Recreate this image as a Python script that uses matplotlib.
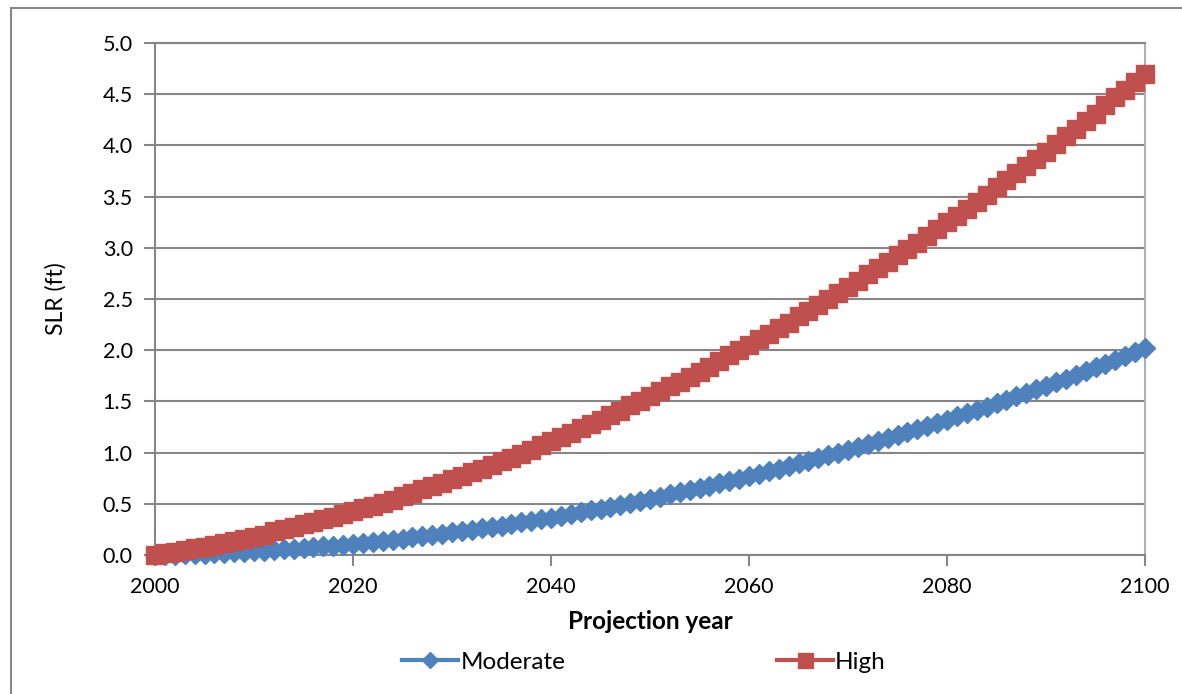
import matplotlib.pyplot as plt
from matplotlib.patches import Rectangle

plt.rcParams['font.family'] = ['Lato', 'DejaVu Sans']

years = list(range(2000, 2101))

moderate = [0.000, 0.002, 0.004, 0.007, 0.010, 0.014, 0.017, 0.022, 0.026, 0.031,
            0.036, 0.042, 0.048, 0.054, 0.061, 0.068, 0.076, 0.084, 0.092, 0.101,
            0.110, 0.119, 0.129, 0.139, 0.149, 0.160, 0.171, 0.183, 0.195, 0.207,
            0.220, 0.233, 0.246, 0.260, 0.274, 0.288, 0.303, 0.318, 0.334, 0.350,
            0.366, 0.383, 0.400, 0.418, 0.435, 0.454, 0.472, 0.491, 0.510, 0.530,
            0.550, 0.570, 0.591, 0.612, 0.634, 0.656, 0.678, 0.700, 0.723, 0.747,
            0.770, 0.794, 0.819, 0.844, 0.869, 0.894, 0.920, 0.947, 0.973, 1.000,
            1.028, 1.055, 1.083, 1.112, 1.141, 1.170, 1.200, 1.230, 1.260, 1.291,
            1.322, 1.353, 1.385, 1.417, 1.450, 1.482, 1.516, 1.549, 1.583, 1.618,
            1.652, 1.688, 1.723, 1.759, 1.795, 1.832, 1.869, 1.906, 1.944, 1.982,
            2.020]

high = [0.00, 0.02, 0.03, 0.05, 0.07, 0.08, 0.10, 0.12, 0.14, 0.16,
        0.18, 0.20, 0.23, 0.25, 0.27, 0.30, 0.32, 0.35, 0.37, 0.40,
        0.43, 0.46, 0.48, 0.51, 0.54, 0.58, 0.61, 0.64, 0.67, 0.70,
        0.74, 0.77, 0.81, 0.84, 0.88, 0.92, 0.95, 0.99, 1.03, 1.07,
        1.11, 1.15, 1.19, 1.24, 1.28, 1.32, 1.37, 1.41, 1.46, 1.50,
        1.55, 1.60, 1.65, 1.69, 1.74, 1.79, 1.84, 1.89, 1.95, 2.00,
        2.05, 2.11, 2.16, 2.22, 2.27, 2.33, 2.38, 2.44, 2.50, 2.56,
        2.62, 2.68, 2.74, 2.80, 2.86, 2.93, 2.99, 3.05, 3.12, 3.18,
        3.25, 3.31, 3.38, 3.45, 3.52, 3.59, 3.66, 3.73, 3.80, 3.87,
        3.94, 4.01, 4.09, 4.16, 4.24, 4.31, 4.39, 4.47, 4.54, 4.62,
        4.70]

yticks = [0.0, 0.5, 1.0, 1.5, 2.0, 2.5, 3.0, 3.5, 4.0, 4.5, 5.0]
xticks = [2000, 2020, 2040, 2060, 2080, 2100]

BLUE = '#4F81BD'
RED = '#C0504D'
GRID = '#868686'
FS = 15.5

fig = plt.figure(figsize=(11.82, 6.94), dpi=100)
ax = fig.add_axes([155 / 1182, 1 - 555 / 694, 990 / 1182, 512 / 694])

ax.plot(years, moderate, color=BLUE, lw=3, marker='D', ms=10, mew=1,
        mec=BLUE, clip_on=False, zorder=3, label='Moderate')
ax.plot(years, high, color=RED, lw=3, marker='s', ms=13.5, mew=1,
        mec=RED, clip_on=False, zorder=4, label='High')

ax.set_xlim(2000, 2100)
ax.set_ylim(0, 5)
ax.set_xticks(xticks)
ax.set_yticks(yticks)
ax.set_yticklabels([f'{v:.1f}' for v in yticks])
ax.tick_params(axis='both', direction='out', length=8, width=1.5,
               color=GRID, labelsize=FS, pad=8)
ax.yaxis.grid(True, color=GRID, lw=1.5)
ax.set_axisbelow(True)
for s in ax.spines.values():
    s.set_color(GRID)
    s.set_linewidth(1.5)
ax.spines['right'].set_color('#B0B0B0')

ax.set_xlabel('Projection year', fontsize=17.5, fontweight='bold', labelpad=9)
ax.set_ylabel('SLR (ft)', fontsize=16.5, labelpad=26)

fig.legend(loc='center left', bbox_to_anchor=(402 / 1182, 1 - 662 / 694),
           ncol=2, frameon=False, fontsize=17.5, handlelength=2.3,
           handletextpad=0.1, columnspacing=8.7, borderpad=0,
           borderaxespad=0, markerscale=0.8)

fig.add_artist(Rectangle((11 / 1182, -0.1), 1.2, 1.1 - 8 / 694,
                         transform=fig.transFigure, fill=False,
                         edgecolor=GRID, lw=1.5))

fig.savefig('out.png', dpi=100)
